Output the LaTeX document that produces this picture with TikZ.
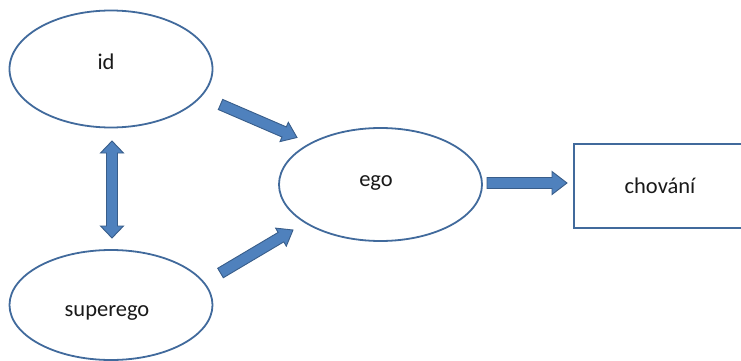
\documentclass[tikz,border=0pt]{standalone}
\usepackage{fontspec}
\setmainfont{Carlito}
\usetikzlibrary{shapes.geometric,calc}
\definecolor{ellline}{RGB}{65,106,156}
\definecolor{arrfill}{RGB}{79,129,189}
\definecolor{arrline}{RGB}{56,93,138}
\tikzset{
  ell/.style={ellipse, draw=ellline, line width=1.8pt, inner sep=0pt},
  boxnode/.style={draw=ellline, line width=1.8pt, inner sep=0pt},
  lbl/.style={anchor=base, font=\fontsize{22.5}{27}\selectfont, text=black!90, inner sep=0pt},
  blockarrow/.style={fill=arrfill, draw=arrline, line width=0.9pt, line join=miter},
}
% single block arrow: #1 tail, #2 tip, #3 half shaft, #4 half head, #5 head length
\newcommand\blockarr[5]{%
  \coordinate (tmpC) at ($(#2)!#5!(#1)$);
  \draw[blockarrow] ($(#1)!#3!90:(#2)$) -- ($(tmpC)!#3!90:(#2)$) -- ($(tmpC)!#4!90:(#2)$)
     -- (#2) -- ($(tmpC)!#4!-90:(#2)$) -- ($(tmpC)!#3!-90:(#2)$) -- ($(#1)!#3!-90:(#2)$) -- cycle;
}
% double block arrow
\newcommand\dblarr[5]{%
  \coordinate (tmpA) at ($(#1)!#5!(#2)$);
  \coordinate (tmpB) at ($(#2)!#5!(#1)$);
  \draw[blockarrow] (#1) -- ($(tmpA)!#4!90:(#2)$) -- ($(tmpA)!#3!90:(#2)$) -- ($(tmpB)!#3!90:(#2)$)
     -- ($(tmpB)!#4!90:(#2)$) -- (#2) -- ($(tmpB)!#4!-90:(#2)$) -- ($(tmpB)!#3!-90:(#2)$)
     -- ($(tmpA)!#3!-90:(#2)$) -- ($(tmpA)!#4!-90:(#2)$) -- cycle;
}
\begin{document}
\begin{tikzpicture}[x=1pt,y=-1pt]
\path[use as bounding box, clip] (0,0) rectangle (741,361);
\fill[white] (0,0) rectangle (741,361);

\node[ell, minimum width=203pt, minimum height=117pt] (id) at (111,69) {};
\node[ell, minimum width=203pt, minimum height=110pt] (superego) at (111,305) {};
\node[ell, minimum width=203pt, minimum height=113pt] (ego) at (380.5,184.5) {};
\node[boxnode, minimum width=190pt, minimum height=84pt, anchor=north west] (chovani) at (573,143) {};

\node[lbl] (idt) at (106,70) {id};
\node[lbl] (superegot) at (107,316) {superego};
\node[lbl] (egot) at (376,186) {ego};
\node[lbl] (chovanit) at (660,193) {chování};

\coordinate (a1) at (220.5,104.5);
\coordinate (a2) at (297,137.5);
\coordinate (b1) at (220.5,273);
\coordinate (b2) at (293,230);
\coordinate (c1) at (112,141);
\coordinate (c2) at (112,238);
\coordinate (d1) at (487,183);
\coordinate (d2) at (567,183);

\blockarr{a1}{a2}{5.5pt}{10.5pt}{14pt}
\blockarr{b1}{b2}{5.5pt}{10.5pt}{14pt}
\dblarr{c1}{c2}{5.5pt}{11.5pt}{12pt}
\blockarr{d1}{d2}{5.5pt}{11.5pt}{15pt}
\end{tikzpicture}
\end{document}
